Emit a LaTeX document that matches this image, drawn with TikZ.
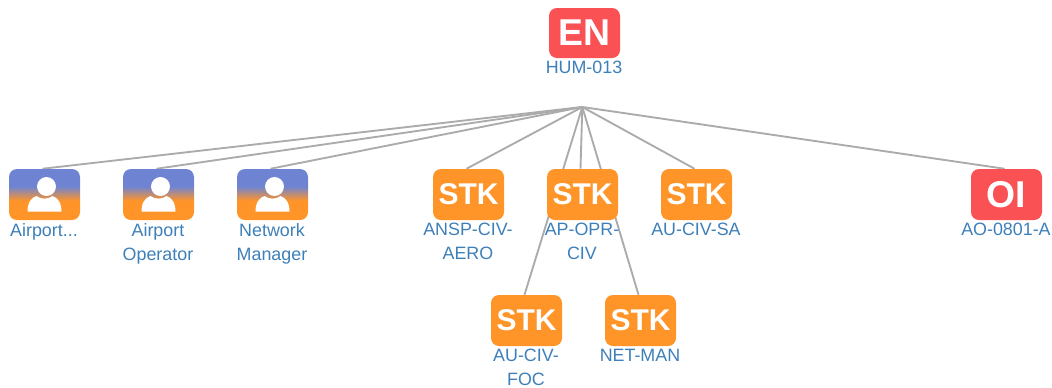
\documentclass[tikz,border=0pt]{standalone}
\usepackage{fontspec}
\setmainfont{Liberation Sans}
\usetikzlibrary{positioning,backgrounds}

\definecolor{boxred}{HTML}{FA5155}
\definecolor{boxorange}{HTML}{FF9429}
\definecolor{boxblue}{HTML}{6E84D2}
\definecolor{labelblue}{HTML}{3D7FB8}
\definecolor{linkgray}{HTML}{ABABAB}

\pgfdeclareverticalshading{actorfade}{100bp}{color(0bp)=(boxorange); color(44bp)=(boxorange); color(58bp)=(boxblue); color(100bp)=(boxblue)}

\tikzset{
  box/.style={rounded corners=6pt,inner sep=0pt,minimum width=53.25pt,minimum height=38.25pt,text=white,font=\bfseries\fontsize{22.5}{24}\selectfont},
  enbox/.style={box,fill=boxred,minimum height=37.5pt,font=\bfseries\fontsize{28}{30}\selectfont},
  oibox/.style={box,fill=boxred,font=\bfseries\fontsize{28}{30}\selectfont},
  stkbox/.style={box,fill=boxorange},
  actorbox/.style={box,shading=actorfade},
  itemlabel/.style={inner sep=0pt,xshift=-.4pt,align=center,text=labelblue,font=\fontsize{13.4}{18}\selectfont},
  link/.style={draw=linkgray,line width=1.4pt},
  pics/actorfigure/.style={code={
    \fill[white] (2,-8) circle [radius=7.1pt];
    \fill[white] (-17,17) .. controls (-17,8) and (-13,3) .. (-8,1.5) .. controls (-4,5) and (4,5) .. (8,1.5) .. controls (13,3) and (17,8) .. (17,17) -- cycle;
  }}
}

\begin{document}
\begin{tikzpicture}[x=.75pt,y=-.75pt]
  \useasboundingbox (0,0) rectangle (1052,387);

  \coordinate (hub) at (582.3,107);

  \node[enbox] (hum) at (584.5,33) {EN};
  \node[itemlabel,below=2.2pt of hum] (humlabel) {HUM-013};

  % actors
  \node[actorbox] (act1) at (44.5,194.5) {};
  \node[actorbox] (act2) at (158.5,194.5) {};
  \node[actorbox] (act3) at (272.5,194.5) {};
  \pic at (act1) {actorfigure};
  \pic at (act2) {actorfigure};
  \pic at (act3) {actorfigure};
  \node[itemlabel,below=2.2pt of act1] (act1label) {Airport...};
  \node[itemlabel,below=2.2pt of act2] (act2label) {Airport\\Operator};
  \node[itemlabel,below=2.2pt of act3] (act3label) {Network\\Manager};

  % stakeholders
  \node[stkbox] (aero) at (468.5,194.5) {STK};
  \node[stkbox] (opr) at (582.5,194.5) {STK};
  \node[stkbox] (sa) at (696.5,194.5) {STK};
  \node[stkbox] (foc) at (526.5,320.5) {STK};
  \node[stkbox] (net) at (640.5,320.5) {STK};
  \node[itemlabel,below=2.2pt of aero] (aerolabel) {ANSP-CIV-\\AERO};
  \node[itemlabel,below=2.2pt of opr] (oprlabel) {AP-OPR-\\CIV};
  \node[itemlabel,below=2.2pt of sa] (salabel) {AU-CIV-SA};
  \node[itemlabel,below=2.2pt of foc] (foclabel) {AU-CIV-\\FOC};
  \node[itemlabel,below=2.2pt of net] (netlabel) {NET-MAN};

  \node[oibox] (oi) at (1006.5,194.5) {OI};
  \node[itemlabel,below=2.2pt of oi] (oilabel) {AO-0801-A};

  \begin{scope}[on background layer]
    \draw[link] (hub) -- ([xshift=-1.5pt]act1.north);
    \draw[link] (hub) -- ([xshift=-1.5pt]act2.north);
    \draw[link] (hub) -- ([xshift=-1.5pt]act3.north);
    \draw[link] (hub) -- ([xshift=-1.5pt]aero.north);
    \draw[link] (hub) -- ([xshift=-1.5pt]opr.north);
    \draw[link] (hub) -- ([xshift=-1.5pt]sa.north);
    \draw[link] (hub) -- ([xshift=-1.5pt]foc.north);
    \draw[link] (hub) -- ([xshift=-1.5pt]net.north);
    \draw[link] (hub) -- ([xshift=-1.5pt]oi.north);
  \end{scope}
\end{tikzpicture}
\end{document}
